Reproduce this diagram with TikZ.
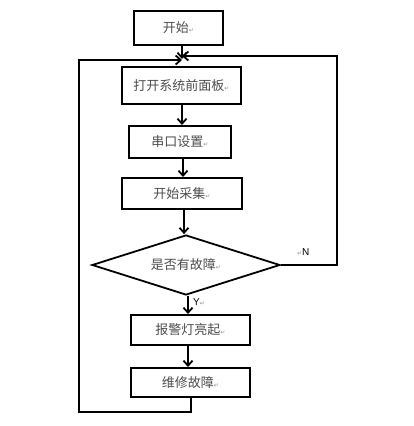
\documentclass[tikz,border=0pt]{standalone}
\usepackage{fontspec}
\setmainfont{Liberation Sans}
\newfontfamily\cjk{Noto Sans CJK SC}
\newfontfamily\dvfont{DejaVu Sans}
\usetikzlibrary{arrows.meta,shapes.geometric}
\newcommand{\parmark}{{\dvfont\fontsize{6}{6}\selectfont\textcolor{black!45}{↵}}}
\tikzset{
  x=1pt, y=-1pt,
  flowbox/.style={draw, line width=2pt, rectangle, inner sep=0pt, text=black!70,
    font=\cjk\fontsize{13}{15}\selectfont},
  decide/.style={draw, line width=1.8pt, diamond, aspect=3.13, inner sep=0pt, text=black!70,
    font=\cjk\fontsize{13}{15}\selectfont},
  flow/.style={line width=2pt, -{Straight Barb[length=5pt,width=9pt,line width=1.8pt]}},
  lab/.style={font=\fontsize{10}{11}\selectfont, inner sep=0pt}
}
\begin{document}
\begin{tikzpicture}
\useasboundingbox (0,0) rectangle (413,426);
% boxes
\node[flowbox, minimum width=89pt, minimum height=34pt] (start) at (178.5,28) {开始\parmark};
\node[flowbox, minimum width=119pt, minimum height=37pt] (open) at (181.5,85.5) {打开系统前面板\parmark};
\node[flowbox, minimum width=102pt, minimum height=32pt] (port) at (180,142) {串口设置\parmark};
\node[flowbox, minimum width=120pt, minimum height=31pt] (collect) at (182,193.5) {开始采集\parmark};
\node[decide, minimum width=188pt, minimum height=60pt] (fault) at (186,265) {是否有故障\parmark};
\node[flowbox, minimum width=119pt, minimum height=30pt] (alarm) at (190.5,330) {报警灯亮起\parmark};
\node[flowbox, minimum width=119pt, minimum height=29pt] (repair) at (190.5,382.5) {维修故障\parmark};
% junction
\coordinate (j) at (182,59);
\coordinate (ltop) at (79,60);
\coordinate (lbot) at (79,412);
\coordinate (rbot) at (191,412);
\coordinate (rtop) at (337,56);
\coordinate (rmid) at (337,265);
% flow arrows
\draw[flow] (start.south -| j) -- (j);
\draw[flow] (open.south -| 182,0) -- (port.north -| 182,0);
\draw[flow] (port.south -| 183,0) -- (collect.north -| 183,0);
\draw[flow] (collect.south -| 184,0) -- (fault.north -| 184,0);
\draw[flow] (fault.south -| 188,0) -- (alarm.north -| 188,0);
\draw[flow] (alarm.south -| 188,0) -- (repair.north -| 188,0);
% loops
\draw[flow] (repair.south -| rbot) -- (rbot) -- (lbot) -- (ltop) -- (j |- ltop);
\draw[flow] (fault.east) -- (rmid) -- (rtop) -- (j |- rtop);
% labels
\node[lab, anchor=west] (nlab) at (297,252) {\parmark N};
\node[lab, anchor=west] (ylab) at (193,302.5) {Y\parmark};
\end{tikzpicture}
\end{document}
